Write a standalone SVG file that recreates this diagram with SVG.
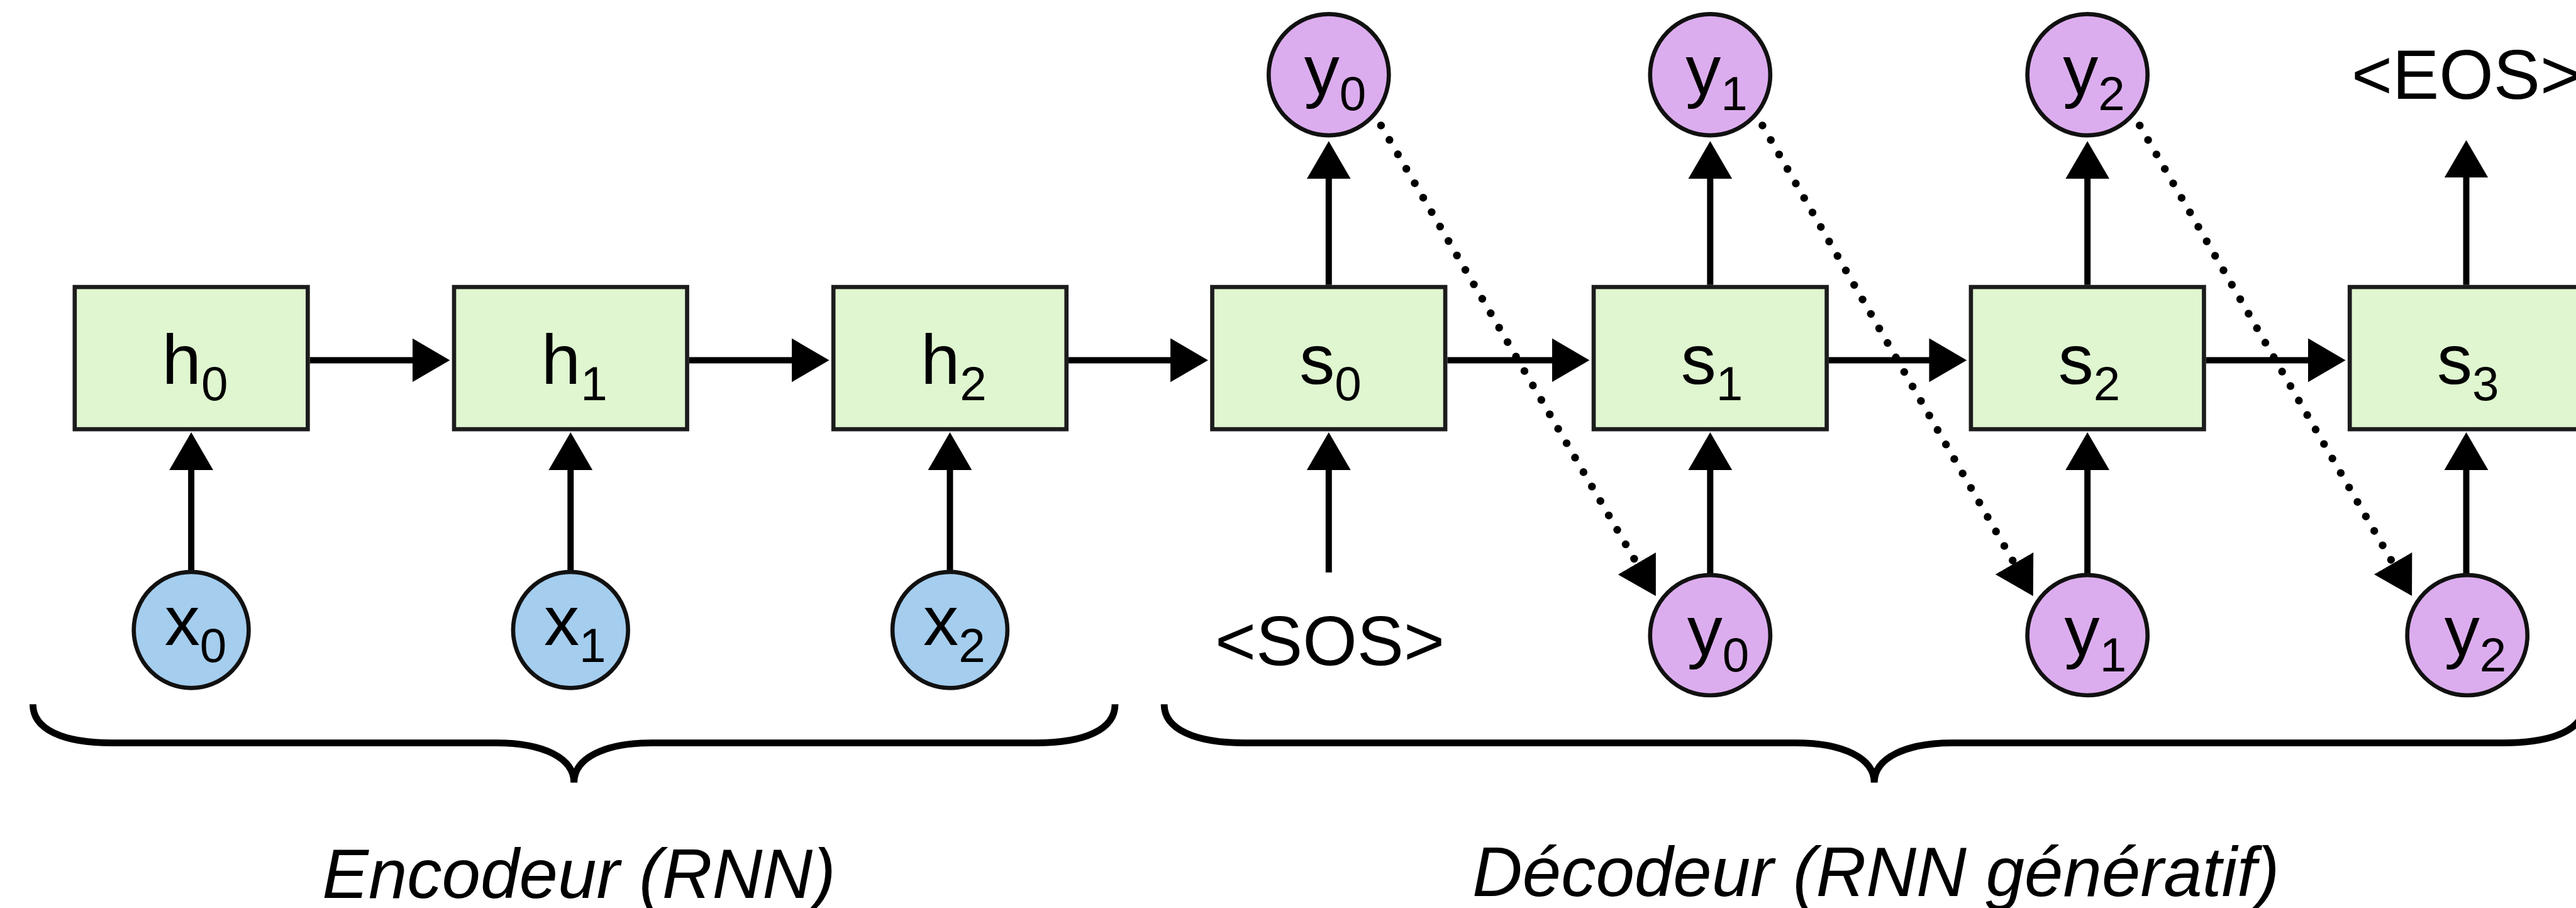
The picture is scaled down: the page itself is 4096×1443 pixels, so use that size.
<svg xmlns="http://www.w3.org/2000/svg" width="4096" height="1443" viewBox="0 0 4096 1443">
  <defs>
    <style>
      .box { fill: #dff6d0; stroke: #1c1c1c; stroke-width: 8; }
      .xin { fill: #a4cdee; stroke: #111; stroke-width: 8; }
      .yout { fill: #dcadee; stroke: #111; stroke-width: 8; }
      .lbl { font-family: "Liberation Sans", Arial, sans-serif; font-size: 135px; fill: #000; }
      .sub { font-size: 92px; }
      .tok { font-family: "Liberation Sans", Arial, sans-serif; font-size: 134px; fill: #000; }
      .cap { font-family: "Liberation Sans", Arial, sans-serif; font-size: 133px; font-style: italic; fill: #000; }
      .arrow { fill: none; stroke: #000; stroke-width: 12; marker-end: url(#head); }
      .dotted { fill: none; stroke: #000; stroke-width: 15; stroke-dasharray: 0 32; stroke-linecap: round; marker-end: url(#head); }
      .brace { fill: none; stroke: #000; stroke-width: 13; }
    </style>
    <marker id="head" markerUnits="userSpaceOnUse" markerWidth="80" markerHeight="90" refX="4" refY="42" orient="auto">
      <path d="M0,0 L72,42 L0,84 z" fill="#000"/>
    </marker>
  </defs>
  <rect x="0" y="0" width="4096" height="1443" fill="#fff"/>
  <g transform="scale(0.830832)">
    <!-- connectors -->
    <g id="connectors">
      <!-- recurrent links -->
      <line class="arrow" x1="593" y1="689" x2="793" y2="689"/>
      <line class="arrow" x1="1319" y1="689" x2="1519" y2="689"/>
      <line class="arrow" x1="2045" y1="689" x2="2244" y2="689"/>
      <line class="arrow" x1="2770" y1="689" x2="2974" y2="689"/>
      <line class="arrow" x1="3500" y1="689" x2="3696" y2="689"/>
      <line class="arrow" x1="4222" y1="689" x2="4421" y2="689"/>
      <!-- inputs into cells -->
      <line class="arrow" x1="366" y1="1092" x2="366" y2="895"/>
      <line class="arrow" x1="1092" y1="1092" x2="1092" y2="895"/>
      <line class="arrow" x1="1818" y1="1092" x2="1818" y2="895"/>
      <line class="arrow" x1="2543" y1="1095" x2="2543" y2="895"/>
      <line class="arrow" x1="3273" y1="1098" x2="3273" y2="895"/>
      <line class="arrow" x1="3995" y1="1098" x2="3995" y2="895"/>
      <line class="arrow" x1="4720" y1="1098" x2="4720" y2="895"/>
      <!-- outputs from decoder cells -->
      <line class="arrow" x1="2543" y1="545" x2="2543" y2="338"/>
      <line class="arrow" x1="3273" y1="545" x2="3273" y2="338"/>
      <line class="arrow" x1="3995" y1="545" x2="3995" y2="338"/>
      <line class="arrow" x1="4720" y1="545" x2="4720" y2="336"/>
      <!-- outputs fed back as next inputs -->
      <line class="dotted" x1="2643" y1="240" x2="3134.7" y2="1081.3"/>
      <line class="dotted" x1="3373" y1="240" x2="3857.1" y2="1081.1"/>
      <line class="dotted" x1="4095" y1="240" x2="4581.9" y2="1081.1"/>
    </g>

    <!-- encoder cells -->
    <g id="h0"><rect class="box" x="143" y="549" width="446" height="272"/><text class="lbl" x="310" y="734">h<tspan class="sub" dy="32">0</tspan></text></g>
    <g id="h1"><rect class="box" x="869" y="549" width="446" height="272"/><text class="lbl" x="1036" y="734">h<tspan class="sub" dy="32">1</tspan></text></g>
    <g id="h2"><rect class="box" x="1595" y="549" width="446" height="272"/><text class="lbl" x="1762" y="734">h<tspan class="sub" dy="32">2</tspan></text></g>

    <!-- decoder cells -->
    <g id="s0"><rect class="box" x="2320" y="549" width="446" height="272"/><text class="lbl" x="2487" y="734">s<tspan class="sub" dy="32">0</tspan></text></g>
    <g id="s1"><rect class="box" x="3050" y="549" width="446" height="272"/><text class="lbl" x="3217" y="734">s<tspan class="sub" dy="32">1</tspan></text></g>
    <g id="s2"><rect class="box" x="3772" y="549" width="446" height="272"/><text class="lbl" x="3939" y="734">s<tspan class="sub" dy="32">2</tspan></text></g>
    <g id="s3"><rect class="box" x="4497" y="549" width="446" height="272"/><text class="lbl" x="4664" y="734">s<tspan class="sub" dy="32">3</tspan></text></g>

    <!-- encoder inputs -->
    <g id="x0"><ellipse class="xin" cx="366" cy="1205" rx="110" ry="111"/><text class="lbl" x="315" y="1234">x<tspan class="sub" dy="32">0</tspan></text></g>
    <g id="x1"><ellipse class="xin" cx="1092" cy="1205" rx="110" ry="111"/><text class="lbl" x="1041" y="1234">x<tspan class="sub" dy="32">1</tspan></text></g>
    <g id="x2"><ellipse class="xin" cx="1818" cy="1205" rx="110" ry="111"/><text class="lbl" x="1767" y="1234">x<tspan class="sub" dy="32">2</tspan></text></g>

    <!-- decoder outputs -->
    <g id="y0-out"><ellipse class="yout" cx="2543" cy="143" rx="115" ry="116"/><text class="lbl" x="2496" y="180">y<tspan class="sub" dy="31">0</tspan></text></g>
    <g id="y1-out"><ellipse class="yout" cx="3273" cy="143" rx="115" ry="116"/><text class="lbl" x="3226" y="180">y<tspan class="sub" dy="31">1</tspan></text></g>
    <g id="y2-out"><ellipse class="yout" cx="3995" cy="143" rx="115" ry="116"/><text class="lbl" x="3948" y="180">y<tspan class="sub" dy="31">2</tspan></text></g>
    <g id="eos"><text class="tok" x="4720" y="189" text-anchor="middle">&lt;EOS&gt;</text></g>

    <!-- decoder inputs -->
    <g id="sos"><text class="tok" x="2545" y="1272" text-anchor="middle">&lt;SOS&gt;</text></g>
    <g id="y0-in"><ellipse class="yout" cx="3273" cy="1215" rx="115" ry="115"/><text class="lbl" x="3229" y="1253">y<tspan class="sub" dy="31">0</tspan></text></g>
    <g id="y1-in"><ellipse class="yout" cx="3995" cy="1215" rx="115" ry="115"/><text class="lbl" x="3951" y="1253">y<tspan class="sub" dy="31">1</tspan></text></g>
    <g id="y2-in"><ellipse class="yout" cx="4722" cy="1215" rx="115" ry="115"/><text class="lbl" x="4678" y="1253">y<tspan class="sub" dy="31">2</tspan></text></g>

    <!-- braces and captions -->
    <g id="encoder">
      <path class="brace" d="M63,1347 C63,1395 120,1421 215,1421 L950,1421 C1040,1421 1098.5,1450 1098.5,1497 C1098.5,1450 1157,1421 1247,1421 L1982,1421 C2077,1421 2134,1395 2134,1347"/>
      <text class="cap" x="1108" y="1717" text-anchor="middle">Encodeur (RNN)</text>
    </g>
    <g id="decoder">
      <path class="brace" d="M2228,1347 C2228,1395 2287,1421 2383,1421 L3437,1421 C3527,1421 3587,1450 3587,1497 C3587,1450 3647,1421 3737,1421 L4791,1421 C4887,1421 4946,1395 4946,1347"/>
      <text class="cap" x="3590" y="1714" text-anchor="middle">Décodeur (RNN génératif)</text>
    </g>
  </g>
</svg>
